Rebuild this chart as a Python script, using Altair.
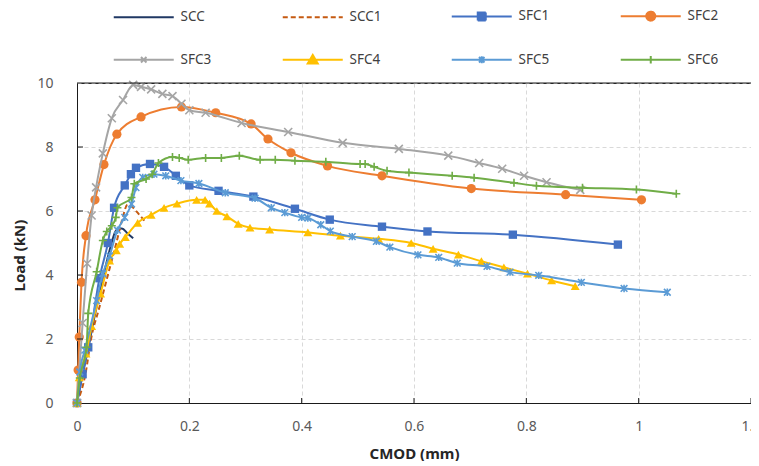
import altair as alt
import pandas as pd

# ---------------- data ----------------
SCC_x = [0, 0.01, 0.02, 0.03, 0.04, 0.05, 0.06, 0.07, 0.08, 0.09, 0.1]
SCC_y = [0, 0.9, 1.7, 2.6, 3.4, 4.2, 4.9, 5.4, 5.45, 5.3, 5.15]

SCC1_x = [0, 0.015, 0.025, 0.04, 0.055, 0.07, 0.08, 0.09, 0.1, 0.11, 0.12]
SCC1_y = [0, 0.9, 2.0, 3.0, 4.0, 5.0, 5.7, 6.2, 6.1, 5.9, 5.7]

SFC1_x = [0, 0.01, 0.02, 0.04, 0.055, 0.066, 0.085, 0.096, 0.105, 0.13, 0.155, 0.176, 0.2,
          0.252, 0.314, 0.388, 0.45, 0.543, 0.624, 0.776, 0.963]
SFC1_y = [0, 0.9, 1.74, 3.9, 5.0, 6.1, 6.8, 7.15, 7.35, 7.47, 7.38, 7.1, 6.8,
          6.63, 6.45, 6.07, 5.73, 5.51, 5.36, 5.26, 4.95]

SFC2_x = [0, 0.002, 0.004, 0.008, 0.016, 0.032, 0.048, 0.071, 0.114, 0.186, 0.247, 0.31,
          0.34, 0.381, 0.446, 0.543, 0.702, 0.87, 1.005]
SFC2_y = [0, 1.03, 2.06, 3.77, 5.23, 6.35, 7.45, 8.4, 8.94, 9.25, 9.07, 8.72,
          8.25, 7.82, 7.41, 7.1, 6.7, 6.51, 6.35]

SFC3_x = [0, 0.01, 0.018, 0.026, 0.034, 0.046, 0.062, 0.082, 0.1, 0.114, 0.132, 0.152, 0.17,
          0.186, 0.2, 0.229, 0.293, 0.376, 0.473, 0.573, 0.661, 0.716, 0.757, 0.796, 0.836, 0.896]
SFC3_y = [0, 2.5, 4.36, 5.86, 6.74, 7.8, 8.9, 9.47, 9.94, 9.88, 9.8, 9.66, 9.59,
          9.35, 9.15, 9.07, 8.75, 8.47, 8.13, 7.94, 7.73, 7.5, 7.32, 7.1, 6.9, 6.66]

SFC4_x = [0, 0.004, 0.016, 0.026, 0.042, 0.058, 0.07, 0.076, 0.086, 0.108, 0.132, 0.155, 0.178,
          0.213, 0.228, 0.236, 0.249, 0.267, 0.287, 0.308, 0.343, 0.411, 0.469, 0.537, 0.595,
          0.634, 0.679, 0.72, 0.76, 0.802, 0.845, 0.887]
SFC4_y = [0, 0.8, 1.54, 2.4, 3.42, 4.45, 4.77, 4.97, 5.18, 5.63, 5.88, 6.1, 6.23,
          6.35, 6.35, 6.23, 6.0, 5.83, 5.6, 5.48, 5.42, 5.33, 5.23, 5.13, 5.0,
          4.82, 4.64, 4.43, 4.24, 4.04, 3.83, 3.65]

SFC5_x = [0, 0.005, 0.014, 0.035, 0.046, 0.058, 0.072, 0.085, 0.097, 0.105, 0.117, 0.137, 0.158,
          0.185, 0.217, 0.264, 0.317, 0.346, 0.37, 0.4, 0.411, 0.434, 0.451, 0.49, 0.533, 0.557,
          0.607, 0.644, 0.677, 0.73, 0.771, 0.822, 0.898, 0.974, 1.051]
SFC5_y = [0, 0.97, 1.65, 3.2, 4.04, 4.6, 5.4, 5.8, 6.22, 6.73, 7.05, 7.15, 7.1,
          6.95, 6.86, 6.57, 6.4, 6.1, 5.95, 5.8, 5.78, 5.57, 5.37, 5.2, 5.05, 4.87,
          4.63, 4.55, 4.37, 4.27, 4.09, 3.99, 3.77, 3.58, 3.46]

SFC6_x = [0, 0.005, 0.017, 0.02, 0.035, 0.046, 0.053, 0.062, 0.069, 0.072, 0.097, 0.102, 0.123,
          0.134, 0.145, 0.17, 0.182, 0.198, 0.229, 0.257, 0.289, 0.326, 0.353, 0.388, 0.443,
          0.504, 0.513, 0.529, 0.552, 0.591, 0.668, 0.707, 0.778, 0.818, 0.9, 0.996, 1.067]
SFC6_y = [0, 0.78, 1.74, 2.8, 4.1, 5.08, 5.36, 5.54, 5.8, 6.1, 6.42, 6.85, 7.0,
          7.15, 7.5, 7.69, 7.66, 7.6, 7.66, 7.66, 7.73, 7.6, 7.6, 7.57, 7.54,
          7.47, 7.47, 7.38, 7.26, 7.2, 7.1, 7.04, 6.88, 6.79, 6.73, 6.67, 6.54]

names = ["SCC", "SCC1", "SFC1", "SFC2", "SFC3", "SFC4", "SFC5", "SFC6"]
colors = ["#203864", "#C55A11", "#4472C4", "#ED7D31", "#A5A5A5", "#FFC000", "#5B9BD5", "#70AD47"]
xs = [SCC_x, SCC1_x, SFC1_x, SFC2_x, SFC3_x, SFC4_x, SFC5_x, SFC6_x]
ys = [SCC_y, SCC1_y, SFC1_y, SFC2_y, SFC3_y, SFC4_y, SFC5_y, SFC6_y]

x_ticks = [0, 0.2, 0.4, 0.6, 0.8, 1.0, 1.2]
y_ticks = [0, 2, 4, 6, 8, 10]

# ---------------- styling ----------------
FONT = "Noto Sans"
W, H = 674, 320

X_PATH = "M-1,-1L1,1M-1,1L1,-1"
STAR_PATH = "M-1,-1L1,1M-1,1L1,-1M0,-1.1L0,1.1"
PLUS_PATH = "M-1,0L1,0M0,-1L0,1"

# per-series marker: (shape, filled, size)
markers = {
    "SFC1": ("square", True, 70),
    "SFC2": ("circle", True, 85),
    "SFC3": (X_PATH, False, 64),
    "SFC4": ("triangle-up", True, 80),
    "SFC5": (STAR_PATH, False, 45),
    "SFC6": (PLUS_PATH, False, 64),
}
dashes = {"SCC1": [5, 3]}

xscale = alt.Scale(domain=[0, 1.2], nice=False, zero=False)
yscale = alt.Scale(domain=[0, 10], nice=False, zero=False)
xaxis = alt.Axis(values=x_ticks, format="~r", title="CMOD (mm)", labelFlush=False)
yaxis = alt.Axis(values=y_ticks, format="d", title="Load (kN)", labelFlush=False)


def X(f):
    return alt.X(f, scale=xscale, axis=xaxis)


def Y(f):
    return alt.Y(f, scale=yscale, axis=yaxis)


layers = []
for i, (n, c) in enumerate(zip(names, colors)):
    d = pd.DataFrame({"x": xs[i], "y": ys[i], "series": n})
    lk = dict(color=c, strokeWidth=2, interpolate="monotone")
    if n in dashes:
        lk["strokeDash"] = dashes[n]
    layers.append(alt.Chart(d).mark_line(**lk).encode(x=X("x:Q"), y=Y("y:Q"), order="x:Q"))
    if n in markers:
        shp, filled, sz = markers[n]
        pk = dict(shape=shp, filled=filled, size=sz, color=c, opacity=1)
        if not filled:
            pk["strokeWidth"] = 1.6
        layers.append(alt.Chart(d).mark_point(**pk).encode(x=X("x:Q"), y=Y("y:Q")))

# inside tick marks and solid top frame line
xt = pd.DataFrame({"t": x_ticks[1:]})
yt = pd.DataFrame({"t": y_ticks[1:-1]})
layers.append(alt.Chart(xt).mark_rule(color="#1a1a1a", strokeWidth=1).encode(
    x=X("t:Q"), y=alt.value(H), y2=alt.value(H - 5)))
layers.append(alt.Chart(yt).mark_rule(color="#1a1a1a", strokeWidth=1).encode(
    y=Y("t:Q"), x=alt.value(0), x2=alt.value(6)))
layers.append(alt.Chart(pd.DataFrame({"t": [y_ticks[-1]]})).mark_rule(color="#1a1a1a", strokeWidth=1).encode(
    y=Y("t:Q"), x=alt.value(0), x2=alt.value(W)))

# legend (line + marker symbols)
LINE = "M-1.2,0L10.8,0"
leg_paths = [
    LINE,
    LINE,
    LINE + "M4,-0.8L5.6,-0.8L5.6,0.8L4,0.8Z",
    LINE + "M3.9,0A0.9,0.9 0 1,0 5.7,0A0.9,0.9 0 1,0 3.9,0Z",
    LINE + "M4.25,-0.55L5.35,0.55M4.25,0.55L5.35,-0.55",
    LINE + "M4.8,-0.95L5.8,0.75L3.8,0.75Z",
    LINE + "M4.25,-0.55L5.35,0.55M4.25,0.55L5.35,-0.55M4.8,-0.7L4.8,0.7",
    LINE + "M4.8,-0.75L4.8,0.75",
]
leg_dash = [[1, 0], [5, 3], [1, 0], [1, 0], [1, 0], [1, 0], [1, 0], [1, 0]]
legend = alt.Legend(
    orient="none", legendX=36, legendY=-74, title=None, columns=4, direction="horizontal",
    columnPadding=65, rowPadding=26, labelOffset=54, symbolSize=100,
    symbolStrokeWidth=2, labelFont=FONT, labelFontSize=13.5, labelColor="#404040",
    padding=0, gridAlign="all",
)
leg_df = pd.DataFrame({"series": names})
layers.append(alt.Chart(leg_df).mark_point(opacity=1, strokeWidth=2).encode(
    x=alt.value(-3000), y=alt.value(-3000),
    fill=alt.Fill("series:N", scale=alt.Scale(domain=names, range=colors), legend=legend, sort=names),
    stroke=alt.Stroke("series:N", scale=alt.Scale(domain=names, range=colors), legend=legend, sort=names),
    shape=alt.Shape("series:N", scale=alt.Scale(domain=names, range=leg_paths), legend=legend, sort=names),
    strokeDash=alt.StrokeDash("series:N", scale=alt.Scale(domain=names, range=leg_dash), legend=legend, sort=names),
))

chart = alt.layer(*layers).properties(
    width=W, height=H,
    autosize=alt.AutoSizeParams(type="none"),
    padding={"left": 69, "top": 75, "right": 0, "bottom": 58},
).configure_view(
    stroke="#333333", strokeWidth=1,
).configure_axis(
    grid=True, gridColor="#D9D9D9", gridDash=[4, 3], gridWidth=1,
    domainColor="#1a1a1a", domainWidth=1, ticks=False,
    labelFont=FONT, labelFontSize=14, labelColor="#595959",
    titleFont=FONT, titleFontSize=15, titleFontWeight="bold", titleColor="#262626",
).configure_axisX(
    labelPadding=16, titleY=50, titleBaseline="middle",
).configure_axisY(
    labelPadding=24, titleX=-58, titleY=172, titleAngle=-90,
    titleBaseline="middle", titleAlign="center",
)

chart.save("out.html", embed_options={"renderer": "svg", "actions": False})
